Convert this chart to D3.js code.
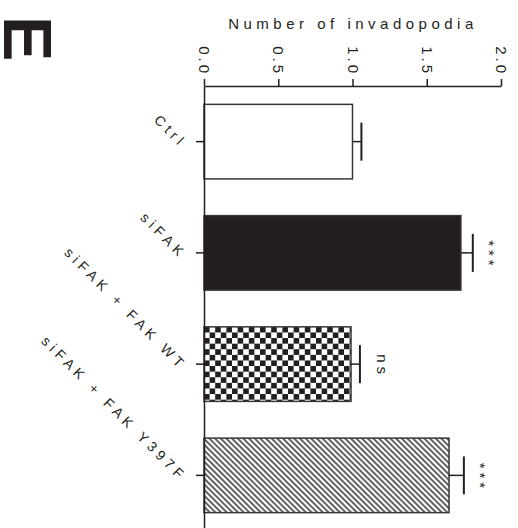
<!DOCTYPE html>
<html>
<head>
<meta charset="utf-8">
<script src="https://cdn.jsdelivr.net/npm/d3@7"></script>
<style>
  html, body { margin: 0; padding: 0; background: #fff; }
  svg { display: block; }
  text { font-family: "Liberation Sans", Arial, Helvetica, sans-serif; fill: #231f20; }
</style>
</head>
<body>
<svg id="chart" width="518" height="528"></svg>
<script>
// Invadopodia counts per condition (mean ± SEM)
const categories = ["Ctrl", "siFAK", "siFAK + FAK WT", "siFAK + FAK Y397F"];
const means = [1.00, 1.73, 0.99, 1.65];
const errors = [0.06, 0.08, 0.06, 0.10];
const significance = ["", "***", "ns", "***"];
const xTicks = [0.0, 0.5, 1.0, 1.5, 2.0];
const axisTitle = "Number of invadopodia";
const panelLetter = "E";

const ink = "#231f20";
const svg = d3.select("#chart");

const x = d3.scaleLinear().domain([0, 2]).range([204, 501]);
const y = d3.scaleBand().domain(categories).range([86, 531])
  .paddingInner(0.33).paddingOuter(0.165);

// fill patterns
const defs = svg.append("defs");
const chk = 5.6;
const checker = defs.append("pattern").attr("id", "checker")
  .attr("patternUnits", "userSpaceOnUse")
  .attr("x", x(0)).attr("y", y(categories[2]))
  .attr("width", chk * 2).attr("height", chk * 2);
checker.append("rect").attr("width", chk * 2).attr("height", chk * 2).attr("fill", "#fff");
checker.append("rect").attr("width", chk).attr("height", chk).attr("fill", ink);
checker.append("rect").attr("x", chk).attr("y", chk).attr("width", chk).attr("height", chk).attr("fill", ink);

const hs = 4.0;
const hatch = defs.append("pattern").attr("id", "hatch")
  .attr("patternUnits", "userSpaceOnUse")
  .attr("width", hs).attr("height", hs)
  .attr("patternTransform", "rotate(-45)");
hatch.append("rect").attr("width", hs).attr("height", hs).attr("fill", "#fff");
hatch.append("line").attr("x1", hs / 2).attr("x2", hs / 2).attr("y1", 0).attr("y2", hs)
  .attr("stroke", ink).attr("stroke-width", 1.4);

const fills = ["#fff", ink, "url(#checker)", "url(#hatch)"];

// bars
svg.append("g").selectAll("rect").data(categories).join("rect")
  .attr("x", x(0))
  .attr("y", d => y(d))
  .attr("width", (d, i) => x(means[i]) - x(0))
  .attr("height", y.bandwidth())
  .attr("fill", (d, i) => fills[i])
  .attr("stroke", "#3a3637")
  .attr("stroke-width", 1.5);

// error bars (upper side only)
const eb = svg.append("g").attr("stroke", ink);
categories.forEach((c, i) => {
  const yc = y(c) + y.bandwidth() / 2;
  const x1 = x(means[i]), x2 = x(means[i] + errors[i]);
  eb.append("line").attr("x1", x1).attr("x2", x2).attr("y1", yc).attr("y2", yc).attr("stroke-width", 1.5);
  eb.append("line").attr("x1", x2).attr("x2", x2).attr("y1", yc - 19).attr("y2", yc + 19).attr("stroke-width", 2);
  if (significance[i]) {
    svg.append("text")
      .attr("transform", `translate(${x2 + (significance[i] === "ns" ? 17 : 11)},${yc}) rotate(90)`)
      .attr("text-anchor", "middle")
      .style("font-size", "15px")
      .style("letter-spacing", "4px")
      .attr("dx", "2px")
      .text(significance[i]);
  }
});

// top value axis
const xAxis = svg.append("g").attr("transform", `translate(0,${86})`)
  .call(d3.axisTop(x).tickValues(xTicks).tickFormat(d3.format(".1f")).tickSize(7).tickSizeOuter(0));
xAxis.select(".domain").attr("stroke", ink).attr("stroke-width", 1.5);
xAxis.selectAll(".tick line").attr("stroke", ink).attr("stroke-width", 1.5);
xAxis.selectAll(".tick text")
  .attr("transform", "rotate(90)")
  .attr("x", -10).attr("y", 0).attr("dy", "0.36em")
  .attr("text-anchor", "end")
  .style("font-size", "15px")
  .style("letter-spacing", "3px")
  .attr("fill", ink);

// category axis
const yAxis = svg.append("g").attr("transform", `translate(${x(0)},0)`)
  .call(d3.axisLeft(y).tickSize(8).tickSizeOuter(0));
yAxis.select(".domain").attr("stroke", ink).attr("stroke-width", 1.5);
yAxis.selectAll(".tick line").attr("stroke", ink).attr("stroke-width", 1.5);
yAxis.selectAll(".tick text")
  .attr("x", 0).attr("dy", null)
  .attr("transform", "translate(-23,7) rotate(45)")
  .attr("text-anchor", "end")
  .style("font-size", "14px")
  .style("letter-spacing", "4.4px")
  .attr("fill", ink);
yAxis.selectAll("text").attr("font-family", null);

// axis title
svg.append("text")
  .attr("x", 353).attr("y", 29)
  .attr("text-anchor", "middle")
  .style("font-size", "15px")
  .style("letter-spacing", "4.5px")
  .text(axisTitle);

// panel letter
svg.append("text")
  .attr("transform", "translate(4,16) rotate(90)")
  .style("font-size", "68px")
  .style("font-weight", "bold")
  .text(panelLetter);
</script>
</body>
</html>
